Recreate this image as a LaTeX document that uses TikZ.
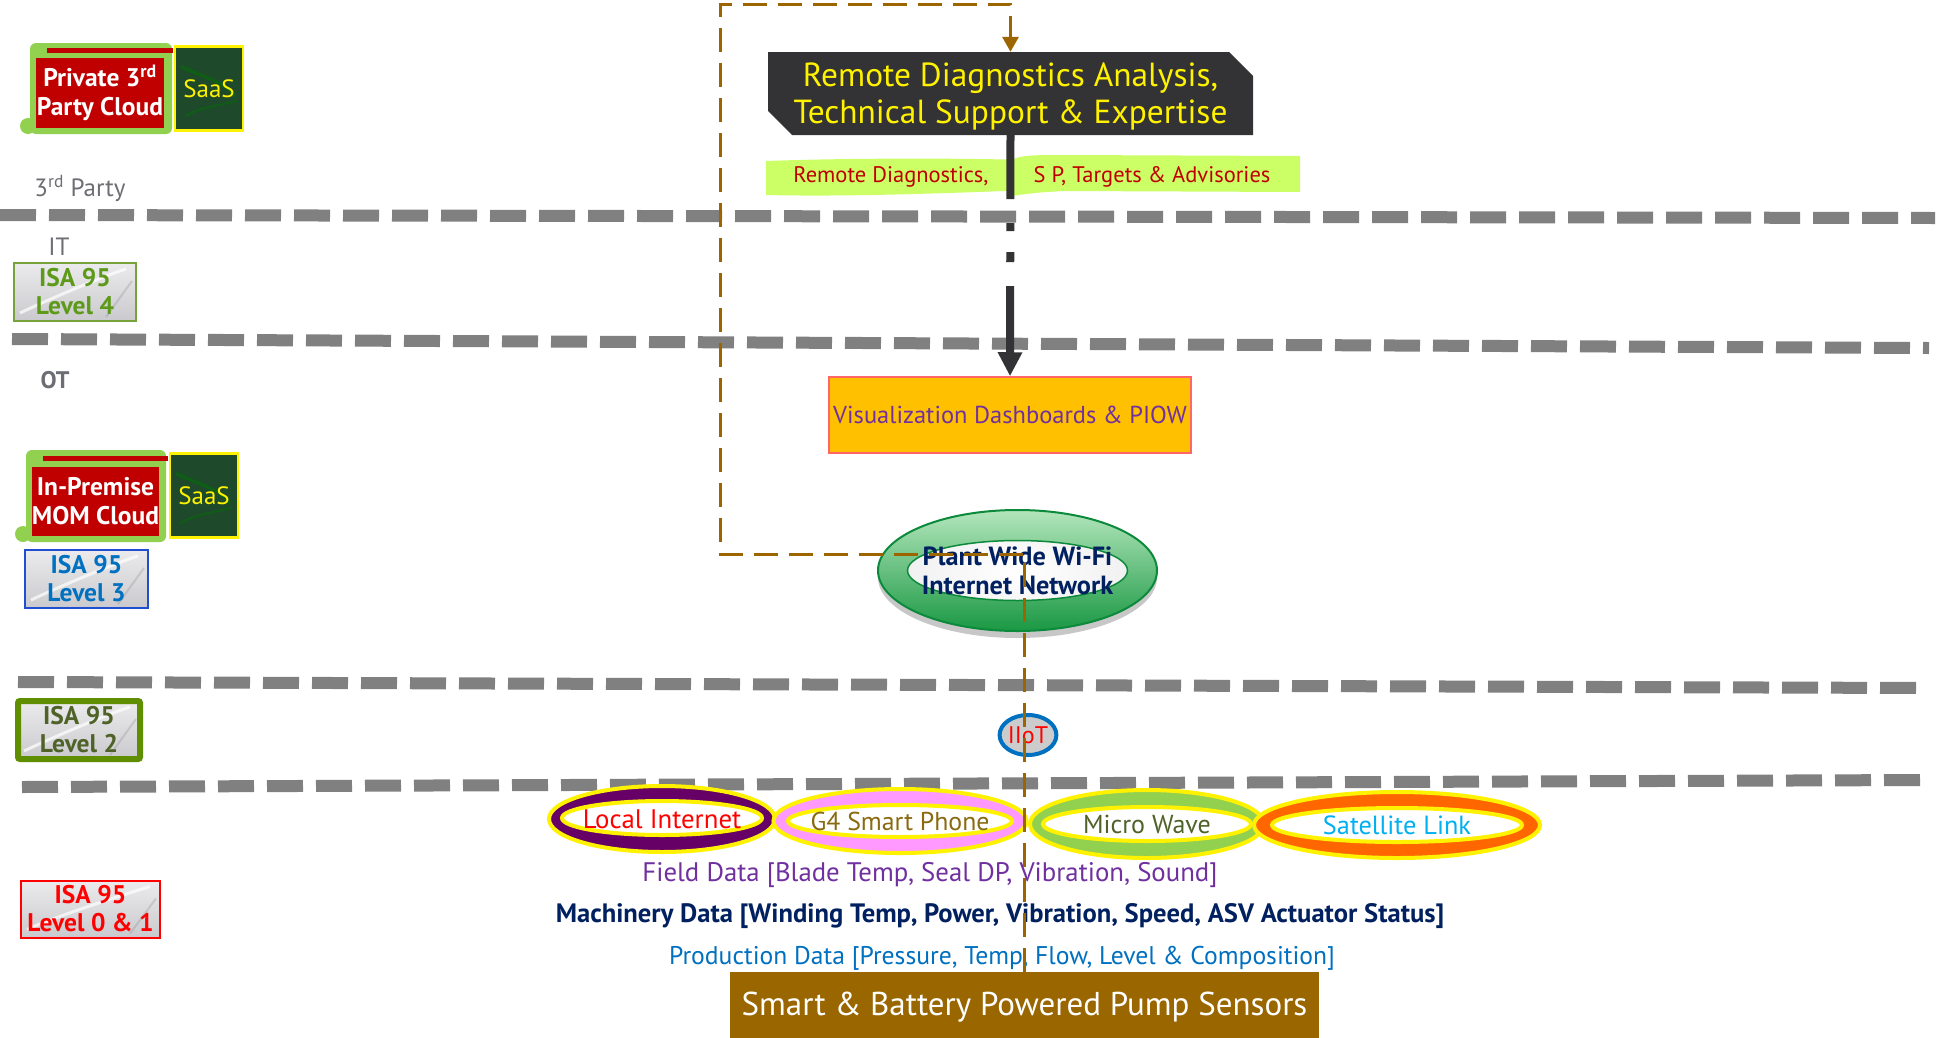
\documentclass[tikz,border=0pt]{standalone}
\usepackage{fontspec}
\setmainfont{PT Sans}
\usetikzlibrary{shapes.geometric,shapes.misc,arrows.meta,shadows}

\definecolor{sepgray}{HTML}{808080}
\definecolor{linkbrown}{HTML}{9C6500}
\definecolor{darkbox}{HTML}{333335}
\definecolor{stripgreen}{HTML}{CCFF66}
\definecolor{deepred}{HTML}{C00000}
\definecolor{vizfill}{HTML}{FFC000}
\definecolor{vizline}{HTML}{FF6666}
\definecolor{violet}{HTML}{7030A0}
\definecolor{navy}{HTML}{002060}
\definecolor{azure}{HTML}{0070C0}
\definecolor{cloudgreen}{HTML}{92D050}
\definecolor{saasgreen}{HTML}{1E4A2B}
\definecolor{labelgray}{HTML}{6D6E73}
\definecolor{lvfour}{HTML}{5E9A1A}
\definecolor{lvfourline}{HTML}{77A33A}
\definecolor{lvthreeline}{HTML}{1F4FD0}
\definecolor{lvtwoline}{HTML}{5F8F00}
\definecolor{lvtwo}{HTML}{4F6228}
\definecolor{ringpurple}{HTML}{660066}
\definecolor{ringpink}{HTML}{FF99FF}
\definecolor{ringorange}{HTML}{FF6600}
\definecolor{cyantext}{HTML}{00B0F0}
\definecolor{sensorbrown}{HTML}{996600}
\definecolor{phonetext}{HTML}{8A6A10}
\definecolor{wifiline}{HTML}{0B8A3B}
\definecolor{wifitop}{HTML}{B3E6BC}
\definecolor{wifibottom}{HTML}{1A9843}
\definecolor{marbletop}{HTML}{EBEBED}
\definecolor{marblebottom}{HTML}{CACACE}

\newcommand\fz[2]{\fontsize{#1}{#2}\selectfont}

\tikzset{
  sep/.style={draw=sepgray, line width=12pt, dash pattern=on 36pt off 13pt},
  graylabel/.style={text=labelgray, font=\fz{25}{30}},
  cloudbox/.style={fill=deepred, text=white, font=\bfseries\fz{25.5}{29}, align=center, inner sep=0pt},
  saas/.style={fill=saasgreen, draw=yellow, line width=2.5pt, text=yellow, font=\fz{25}{30},
    minimum width=68pt, minimum height=84pt, inner sep=0pt,
    path picture={
      \draw[green!45!black, opacity=.55, line width=3pt]
        ([xshift=6pt,yshift=-20pt]path picture bounding box.north west) .. controls +(20pt,-10pt) and +(-10pt,15pt) .. ([xshift=-8pt,yshift=-50pt]path picture bounding box.north east);
      \draw[green!45!black, opacity=.45, line width=2pt]
        ([xshift=10pt,yshift=14pt]path picture bounding box.south west) .. controls +(15pt,10pt) and +(-15pt,-5pt) .. ([xshift=-6pt,yshift=30pt]path picture bounding box.south east);
    }},
  isa/.style={top color=marbletop, bottom color=marblebottom, line width=2pt,
    font=\bfseries\fz{25.5}{28}, align=center, inner sep=0pt,
    path picture={
      \draw[white, opacity=.7, line width=3pt]
        ([xshift=6pt,yshift=8pt]path picture bounding box.south west) .. controls +(25pt,12pt) and +(-20pt,-6pt) .. ([xshift=-10pt,yshift=-6pt]path picture bounding box.north east);
      \draw[gray, opacity=.25, line width=2pt]
        ([xshift=-30pt,yshift=4pt]path picture bounding box.south east) -- ([xshift=-4pt,yshift=-18pt]path picture bounding box.north east);
    }},
  ring/.style={ellipse, draw=yellow, line width=4pt, inner sep=0pt, font=\fz{26}{30}},
  datatext/.style={inner sep=0pt},
  brownlink/.style={draw=linkbrown, line width=3pt, dash pattern=on 24pt off 11pt},
}

\begin{document}
\begin{tikzpicture}[x=1pt,y=-1pt]
\useasboundingbox (0,0) rectangle (1939,1037);
\fill[white] (0,0) rectangle (1939,1037);

% ---------- layer separators ----------
\draw[sep] (0,215) -- (1935,218);
\draw[sep] (12,339) -- (1929,348);
\draw[sep] (18,682) -- (1926,688);
\draw[sep] (22,787) -- (1926,780);

% ---------- layer captions ----------
\node[graylabel] (lblthird) at (80,188) {3\textsuperscript{rd} Party};
\node[graylabel] (lblit) at (59,247) {IT};
\node[graylabel, font=\bfseries\fz{24}{30}] (lblot) at (55,380) {OT};

% ---------- private cloud (scroll frame) ----------
\fill[cloudgreen, rounded corners=6pt] (30,43) rectangle (172,134);
\fill[cloudgreen] (28,126) circle (8pt);
\node[cloudbox, minimum width=128pt, minimum height=70pt] (pvt) at (100,93)
  {Private 3\textsuperscript{rd}\\Party Cloud};
\draw[deepred, line width=5pt] (47,50.5) -- (173,50.5);
\node[saas] (saasA) at (209,88.5) {SaaS};

% ---------- in-premise cloud (scroll frame) ----------
\fill[cloudgreen, rounded corners=6pt] (26,450) rectangle (166,542);
\fill[cloudgreen] (23,534) circle (8pt);
\node[cloudbox, minimum width=127pt, minimum height=69pt] (mom) at (95.5,501.5)
  {In-Premise\\MOM Cloud};
\draw[deepred, line width=5pt] (43,458) -- (168,458);
\node[saas] (saasB) at (204,495.5) {SaaS};

% ---------- ISA 95 levels ----------
\node[isa, draw=lvfourline, text=lvfour, minimum width=122pt, minimum height=58pt] (lv4) at (75,292) {ISA 95\\Level 4};
\node[isa, draw=lvthreeline, text=azure, minimum width=123pt, minimum height=58pt] (lv3) at (86.5,579) {ISA 95\\Level 3};
\node[isa, draw=lvtwoline, line width=6pt, rounded corners=2pt, text=lvtwo, minimum width=122pt, minimum height=58pt] (lv2) at (79,730) {ISA 95\\Level 2};
\node[isa, draw=red, text=red, minimum width=139pt, minimum height=57pt] (lv01) at (90.5,909) {ISA 95\\Level 0 \& 1};

% ---------- remote diagnostics ----------
\node[chamfered rectangle, chamfered rectangle corners={north east,south west},
      chamfered rectangle xsep=12pt, chamfered rectangle ysep=12pt,
      fill=darkbox, text=yellow, font=\fz{33.4}{37}, inner sep=0pt,
      minimum width=485pt, minimum height=83pt] (rd) at (1010.5,93.5)
  {\raisebox{-10pt}[22pt][22pt]{\begin{tabular}{@{}c@{}}Remote Diagnostics Analysis,\\Technical Support \& Expertise\end{tabular}}};

% label strips under the box
\fill[stripgreen] (766,161) .. controls (850,158) and (950,158) .. (1030,160)
  -- (1032,190) .. controls (950,193) and (850,197) .. (766,195) -- cycle;
\fill[stripgreen] (1012,160) .. controls (1020,155) and (1035,155) .. (1065,155)
  -- (1300,156) -- (1300,192) -- (1065,191) .. controls (1040,192) and (1025,194) .. (1012,196) -- cycle;
\node[font=\fz{22.5}{26}, text=deepred, inner sep=0pt] (advA) at (891,177) {Remote Diagnostics,};
\node[font=\fz{22.5}{26}, text=deepred, inner sep=0pt] (advB) at (1152,177) {S P, Targets \& Advisories};

% ---------- visualization ----------
\node[fill=vizfill, draw=vizline, line width=1.5pt, text=violet, font=\fz{24.5}{30},
      minimum width=362pt, minimum height=76pt, inner sep=0pt] (viz) at (1010,415)
  {Visualization Dashboards \& PIOW};

% ---------- plant wide network ----------
\node[ellipse, draw=wifiline, line width=2pt, top color=wifitop, bottom color=wifibottom,
      minimum width=279pt, minimum height=121pt, inner sep=0pt,
      drop shadow={shadow xshift=0pt, shadow yshift=-7pt, opacity=.22, fill=black},
      text=navy, font=\bfseries\fz{26.3}{29}, align=center,
      path picture={
        \draw[draw=wifiline, line width=1.5pt, inner color=white, outer color=white!86!gray]
          (path picture bounding box.center) ellipse [x radius=110pt, y radius=30pt];
      }] (wifi) at (1017.5,570.5) {Plant Wide Wi-Fi\\Internet Network};

% ---------- IIoT ----------
\node[ellipse, fill=black!20, draw=azure, line width=4pt, text=red, font=\fz{24}{28},
      minimum width=56pt, minimum height=40pt, inner sep=0pt] (iiot) at (1028,735) {IIoT};

% ---------- communication rings ----------
\node[ring, fill=ringpurple, text=red, font=\fz{26.8}{30}, minimum width=226pt, minimum height=66pt,
      path picture={\filldraw[draw=yellow, line width=4pt, fill=white] ([yshift=1pt]path picture bounding box.center) ellipse [x radius=100pt, y radius=17pt];}]
  (local) at (662,819) {Local Internet};
\node[ring, fill=ringpink, text=phonetext, font=\fz{25.8}{30}, minimum width=252pt, minimum height=64pt,
      path picture={\filldraw[draw=yellow, line width=4pt, fill=white] (path picture bounding box.center) ellipse [x radius=112pt, y radius=16pt];}]
  (gfour) at (900,821) {G4 Smart Phone};
\node[ring, fill=cloudgreen, text=lvtwo, font=\fz{26}{30}, minimum width=234pt, minimum height=68pt,
      path picture={\filldraw[draw=yellow, line width=4pt, fill=white] (path picture bounding box.center) ellipse [x radius=104pt, y radius=17pt];}]
  (micro) at (1147,824) {Micro Wave};
\node[ring, fill=ringorange, text=cyantext, font=\fz{26.3}{30}, minimum width=286pt, minimum height=66pt,
      path picture={\filldraw[draw=yellow, line width=4pt, fill=white] (path picture bounding box.center) ellipse [x radius=125pt, y radius=17pt];}]
  (sat) at (1397,825) {Satellite Link};

% ---------- data streams ----------
\node[datatext, text=violet, font=\fz{26.8}{30}] (field) at (930,875) {Field Data [Blade Temp, Seal DP, Vibration, Sound]};
\node[datatext, text=navy, font=\bfseries\fz{26.6}{30}] (mach) at (1000,916) {Machinery Data [Winding Temp, Power, Vibration, Speed, ASV Actuator Status]};
\node[datatext, text=azure, font=\fz{25.6}{30}] (prod) at (1002,958) {Production Data [Pressure, Temp, Flow, Level \& Composition]};

% ---------- sensors ----------
\node[fill=sensorbrown, text=white, font=\fz{33}{38}, minimum width=589pt, minimum height=70pt,
      inner sep=0pt, anchor=north] (sens) at (1024.5,972) {\raisebox{1pt}{Smart \& Battery Powered Pump Sensors}};

% ---------- connectors ----------
\draw[darkbox, line width=8pt,
      dash pattern=on 64pt off 24pt on 8pt off 21pt on 10pt off 24pt on 90pt off 10pt,
      -{Triangle[length=24pt,width=23pt]}] (rd.south) -- (viz.north);

\coordinate (loopL) at (720,554);
\coordinate (loopT) at (720,4);
\draw[brownlink, -{Triangle[length=15pt,width=16pt]}]
  (sens.north) |- (loopL) -- (loopT) -| (rd.north);
\end{tikzpicture}
\end{document}
